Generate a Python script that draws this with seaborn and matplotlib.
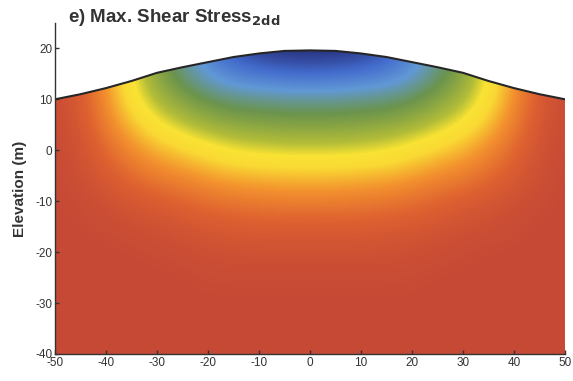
import numpy as np
import matplotlib
matplotlib.use("Agg")
import matplotlib.pyplot as plt
from matplotlib.colors import LinearSegmentedColormap
from matplotlib.patches import Polygon
import seaborn as sns

# Surface profile of the hill (x in m, elevation in m)
surface_x = [-50, -45, -40, -35, -30, -25, -20, -15, -10, -5, 0, 5, 10, 15, 20, 25, 30, 35, 40, 45, 50]
surface_z = [10.0, 11.0, 12.2, 13.6, 15.2, 16.3, 17.3, 18.3, 19.0, 19.5, 19.6, 19.5, 19.0, 18.3, 17.3, 16.3, 15.2, 13.6, 12.2, 11.0, 10.0]

# Grid of normalised max shear stress (0 = low / blue, 1 = high / red)
grid_x = [-50, -45, -40, -35, -30, -25, -20, -15, -10, -5, 0, 5, 10, 15, 20, 25, 30, 35, 40, 45, 50]
grid_y = [25, 20, 15, 10, 5, 0, -5, -10, -15, -20, -25, -30, -35, -40]
stress = [
    # y = 25
    [0.98, 0.90, 0.74, 0.56, 0.40, 0.30, 0.18, 0.06, 0.00, -0.03, -0.05, -0.03, 0.00, 0.06, 0.18, 0.30, 0.40, 0.56, 0.74, 0.90, 0.98],
    # y = 20
    [0.98, 0.90, 0.74, 0.56, 0.40, 0.30, 0.18, 0.07, 0.02, 0.00, 0.00, 0.00, 0.02, 0.07, 0.18, 0.30, 0.40, 0.56, 0.74, 0.90, 0.98],
    # y = 15
    [0.98, 0.90, 0.74, 0.57, 0.42, 0.33, 0.24, 0.18, 0.15, 0.13, 0.12, 0.13, 0.15, 0.18, 0.24, 0.33, 0.42, 0.57, 0.74, 0.90, 0.98],
    # y = 10
    [0.99, 0.91, 0.76, 0.60, 0.48, 0.41, 0.36, 0.33, 0.32, 0.31, 0.31, 0.31, 0.32, 0.33, 0.36, 0.41, 0.48, 0.60, 0.76, 0.91, 0.99],
    # y = 5
    [0.99, 0.93, 0.80, 0.68, 0.58, 0.51, 0.46, 0.43, 0.42, 0.41, 0.41, 0.41, 0.42, 0.43, 0.46, 0.51, 0.58, 0.68, 0.80, 0.93, 0.99],
    # y = 0
    [1.00, 0.95, 0.86, 0.77, 0.70, 0.65, 0.60, 0.56, 0.54, 0.53, 0.53, 0.53, 0.54, 0.56, 0.60, 0.65, 0.70, 0.77, 0.86, 0.95, 1.00],
    # y = -5
    [1.00, 0.97, 0.91, 0.85, 0.80, 0.77, 0.73, 0.70, 0.69, 0.68, 0.68, 0.68, 0.69, 0.70, 0.73, 0.77, 0.80, 0.85, 0.91, 0.97, 1.00],
    # y = -10
    [1.00, 0.99, 0.96, 0.93, 0.90, 0.87, 0.84, 0.82, 0.81, 0.80, 0.80, 0.80, 0.81, 0.82, 0.84, 0.87, 0.90, 0.93, 0.96, 0.99, 1.00],
    # y = -15
    [1.00, 1.00, 0.99, 0.97, 0.96, 0.94, 0.92, 0.91, 0.90, 0.90, 0.90, 0.90, 0.90, 0.91, 0.92, 0.94, 0.96, 0.97, 0.99, 1.00, 1.00],
    # y = -20
    [1.00, 1.00, 1.00, 1.00, 0.99, 0.98, 0.97, 0.96, 0.96, 0.96, 0.96, 0.96, 0.96, 0.96, 0.97, 0.98, 0.99, 1.00, 1.00, 1.00, 1.00],
    # y = -25
    [1.00, 1.00, 1.00, 1.00, 1.00, 1.00, 0.99, 0.99, 0.99, 0.99, 0.99, 0.99, 0.99, 0.99, 0.99, 1.00, 1.00, 1.00, 1.00, 1.00, 1.00],
    # y = -30
    [1.00] * 21,
    # y = -35
    [1.00] * 21,
    # y = -40
    [1.00] * 21,
]

x_ticks = [-50, -40, -30, -20, -10, 0, 10, 20, 30, 40, 50]
y_ticks = [-40, -30, -20, -10, 0, 10, 20]

sns.set_style("ticks")
plt.rcParams["font.family"] = ["Liberation Sans", "DejaVu Sans"]
plt.rcParams["axes.unicode_minus"] = False

cmap = LinearSegmentedColormap.from_list(
    "shear",
    [(0.00, (0.15, 0.17, 0.46)),
     (0.13, (0.26, 0.42, 0.80)),
     (0.25, (0.38, 0.60, 0.84)),
     (0.37, (0.42, 0.58, 0.30)),
     (0.50, (0.70, 0.74, 0.22)),
     (0.57, (0.98, 0.89, 0.20)),
     (0.64, (0.98, 0.85, 0.20)),
     (0.76, (0.95, 0.56, 0.18)),
     (0.88, (0.87, 0.38, 0.19)),
     (1.00, (0.78, 0.29, 0.21))])

fig = plt.figure(figsize=(5.73, 3.81), dpi=100)
ax = fig.add_axes([0.096, 0.0709, 0.890, 0.869])

Z = np.array(stress)
im = ax.imshow(Z, extent=[min(grid_x) - 2.5, max(grid_x) + 2.5, min(grid_y) - 2.5, max(grid_y) + 2.5],
               origin="upper", cmap=cmap, vmin=0, vmax=1, interpolation="bicubic", aspect="auto")

poly_pts = [(-50, -40)] + list(zip(surface_x, surface_z)) + [(50, -40)]
clip = Polygon(poly_pts, closed=True, transform=ax.transData, facecolor="none", edgecolor="none")
ax.add_patch(clip)
im.set_clip_path(clip)

sns.lineplot(x=surface_x, y=surface_z, ax=ax, color="#262626", linewidth=1.5, sort=False)

ax.set_xlim(-50, 50)
ax.set_ylim(-40, 25)
ax.set_xticks(x_ticks)
ax.set_yticks(y_ticks)
ax.tick_params(direction="in", length=3, width=1, labelsize=8.5, colors="#333333", pad=2)
for s in ["top", "right"]:
    ax.spines[s].set_visible(False)
for s in ["left", "bottom"]:
    ax.spines[s].set_color("#333333")
    ax.spines[s].set_linewidth(1.0)

ax.set_ylabel("Elevation (m)", fontsize=11, fontweight="bold", color="#333333", labelpad=6)
fig.text(68 / 573, 1 - 17 / 381, r"e) Max. Shear Stress$_{\mathbf{2dd}}$", fontsize=13.5,
         fontweight="bold", color="#333333", va="center", ha="left")

fig.savefig("out.png", dpi=100)
